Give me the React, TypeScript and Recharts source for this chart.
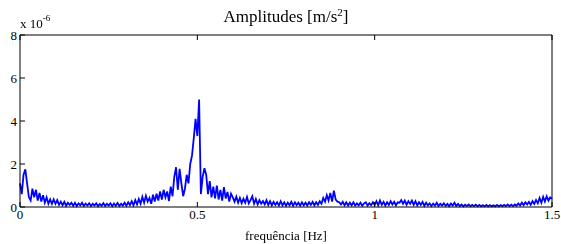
import React from "react";
import { LineChart, Line, XAxis, YAxis } from "recharts";

// frequency grid step (Hz) and amplitude values (x 1e-6 m/s^2)
const freqStep = 0.005;
const amplitudes: number[] = [
  // 0.000 - 0.095
  1.1, 0.6, 1.5, 1.75, 1.1, 0.45, 0.3, 0.85, 0.45, 0.8, 0.3, 0.65, 0.25, 0.55, 0.2, 0.45, 0.15, 0.35, 0.15, 0.35,
  // 0.100 - 0.195
  0.15, 0.32, 0.1, 0.25, 0.08, 0.24, 0.06, 0.2, 0.1, 0.2, 0.06, 0.2, 0.05, 0.17, 0.08, 0.2, 0.05, 0.16, 0.07, 0.17,
  // 0.200 - 0.295
  0.05, 0.15, 0.07, 0.17, 0.04, 0.14, 0.06, 0.18, 0.05, 0.15, 0.07, 0.17, 0.04, 0.16, 0.06, 0.19, 0.05, 0.15, 0.07, 0.2,
  // 0.300 - 0.395
  0.06, 0.22, 0.09, 0.27, 0.08, 0.32, 0.12, 0.37, 0.15, 0.47, 0.2, 0.52, 0.25, 0.42, 0.15, 0.57, 0.25, 0.62, 0.3, 0.72,
  // 0.400 - 0.495
  0.35, 0.8, 0.45, 0.72, 0.28, 0.95, 0.5, 1.4, 1.85, 0.8, 1.77, 1.1, 0.5, 0.85, 1.5, 1.1, 2.0, 2.4, 3.2, 4.1,
  // 0.500 - 0.595
  3.3, 5.0, 0.6, 1.4, 1.8, 1.5, 0.6, 1.2, 0.45, 0.95, 0.4, 1.0, 0.35, 0.8, 0.3, 0.92, 0.4, 0.7, 0.25, 0.62,
  // 0.600 - 0.695
  0.45, 0.25, 0.48, 0.2, 0.42, 0.18, 0.38, 0.2, 0.47, 0.17, 0.32, 0.5, 0.15, 0.37, 0.12, 0.32, 0.15, 0.28, 0.12, 0.32,
  // 0.700 - 0.795
  0.1, 0.27, 0.08, 0.24, 0.1, 0.22, 0.07, 0.27, 0.08, 0.22, 0.06, 0.2, 0.08, 0.24, 0.06, 0.22, 0.09, 0.2, 0.06, 0.22,
  // 0.800 - 0.895
  0.08, 0.2, 0.07, 0.22, 0.1, 0.24, 0.08, 0.22, 0.1, 0.27, 0.15, 0.42, 0.25, 0.55, 0.3, 0.65, 0.25, 0.76, 0.35, 0.25,
  // 0.900 - 0.995
  0.22, 0.12, 0.24, 0.08, 0.22, 0.07, 0.2, 0.08, 0.22, 0.07, 0.17, 0.08, 0.2, 0.06, 0.17, 0.22, 0.07, 0.18, 0.08, 0.22,
  // 1.000 - 1.095
  0.1, 0.27, 0.08, 0.3, 0.1, 0.24, 0.07, 0.22, 0.1, 0.27, 0.12, 0.24, 0.08, 0.22, 0.2, 0.32, 0.15, 0.3, 0.1, 0.27,
  // 1.100 - 1.195
  0.15, 0.3, 0.1, 0.27, 0.08, 0.22, 0.1, 0.24, 0.06, 0.2, 0.08, 0.17, 0.05, 0.16, 0.07, 0.2, 0.05, 0.15, 0.07, 0.17,
  // 1.200 - 1.295
  0.05, 0.14, 0.04, 0.16, 0.07, 0.2, 0.05, 0.14, 0.04, 0.12, 0.03, 0.11, 0.04, 0.12, 0.03, 0.1, 0.04, 0.11, 0.03, 0.1,
  // 1.300 - 1.395
  0.03, 0.09, 0.03, 0.1, 0.03, 0.09, 0.03, 0.08, 0.03, 0.1, 0.03, 0.09, 0.04, 0.1, 0.04, 0.12, 0.04, 0.11, 0.04, 0.12,
  // 1.400 - 1.500
  0.06, 0.17, 0.07, 0.2, 0.09, 0.22, 0.12, 0.24, 0.1, 0.27, 0.14, 0.32, 0.17, 0.42, 0.2, 0.47, 0.25, 0.5, 0.3, 0.45, 0.38,
];

const xTicks = [0, 0.5, 1, 1.5];
const yTicks = [0, 2, 4, 6, 8];

const data = amplitudes.map((a, i) => ({ f: Math.round(i * freqStep * 1000) / 1000, a }));

const FONT = "'Liberation Serif', 'Times New Roman', serif";
const TICK_LEN = 5;

const BottomTick = (p: any) => (
  <g>
    <line x1={p.x} y1={p.y} x2={p.x} y2={p.y - TICK_LEN} stroke="#000" strokeWidth={1} />
    <text x={p.x} y={p.y + 3} dy="0.71em" textAnchor="middle" fontFamily={FONT} fontSize={13} fill="#000">
      {p.payload.value}
    </text>
  </g>
);
const TopTick = (p: any) => (
  <line x1={p.x} y1={p.y} x2={p.x} y2={p.y + TICK_LEN} stroke="#000" strokeWidth={1} />
);
const LeftTick = (p: any) => (
  <g>
    <line x1={p.x} y1={p.y} x2={p.x + TICK_LEN} y2={p.y} stroke="#000" strokeWidth={1} />
    <text x={p.x - 3} y={p.y} dy="0.35em" textAnchor="end" fontFamily={FONT} fontSize={13} fill="#000">
      {p.payload.value}
    </text>
  </g>
);
const RightTick = (p: any) => (
  <line x1={p.x} y1={p.y} x2={p.x - TICK_LEN} y2={p.y} stroke="#000" strokeWidth={1} />
);

export default function App() {
  return (
    <div style={{ position: "fixed", left: 0, top: 0, width: 561, height: 244, background: "#fff", fontFamily: FONT }}>
      <LineChart width={561} height={244} data={data} margin={{ top: 0, right: 0, bottom: 0, left: 0 }}>
        <XAxis
          dataKey="f"
          type="number"
          domain={[0, 1.5]}
          ticks={xTicks}
          xAxisId="b"
          height={37}
          tickSize={0}
          tickMargin={0}
          tick={<BottomTick />}
          axisLine={{ stroke: "#000" }}
          interval={0}
        />
        <XAxis
          dataKey="f"
          type="number"
          domain={[0, 1.5]}
          ticks={xTicks}
          xAxisId="t"
          orientation="top"
          height={35}
          tickSize={0}
          tickMargin={0}
          tick={<TopTick />}
          axisLine={{ stroke: "#000" }}
          interval={0}
        />
        <YAxis
          yAxisId="l"
          type="number"
          domain={[0, 8]}
          ticks={yTicks}
          width={20}
          tickSize={0}
          tickMargin={0}
          tick={<LeftTick />}
          axisLine={{ stroke: "#000" }}
          interval={0}
        />
        <YAxis
          yAxisId="r"
          orientation="right"
          type="number"
          domain={[0, 8]}
          ticks={yTicks}
          width={9}
          tickSize={0}
          tickMargin={0}
          tick={<RightTick />}
          axisLine={{ stroke: "#000" }}
          interval={0}
        />
        <Line
          xAxisId="b"
          yAxisId="l"
          dataKey="a"
          type="linear"
          stroke="#0000ff"
          strokeWidth={1.8}
          dot={false}
          isAnimationActive={false}
        />
      </LineChart>
      <div style={{ position: "absolute", left: 0, width: 572, top: 7, textAlign: "center", fontSize: 17, lineHeight: "19px", color: "#000", whiteSpace: "nowrap" }}>
        Amplitudes [m/s<span style={{ fontSize: 11, position: "relative", top: -6 }}>2</span>]
      </div>
      <div style={{ position: "absolute", left: 20, top: 17, fontSize: 13, lineHeight: "14px", color: "#000", whiteSpace: "nowrap" }}>
        x 10<span style={{ fontSize: 9, position: "relative", top: -7 }}>-6</span>
      </div>
      <div style={{ position: "absolute", left: 0, width: 572, top: 229, textAlign: "center", fontSize: 13, lineHeight: "14px", color: "#000", whiteSpace: "nowrap" }}>
        frequência [Hz]
      </div>
    </div>
  );
}
